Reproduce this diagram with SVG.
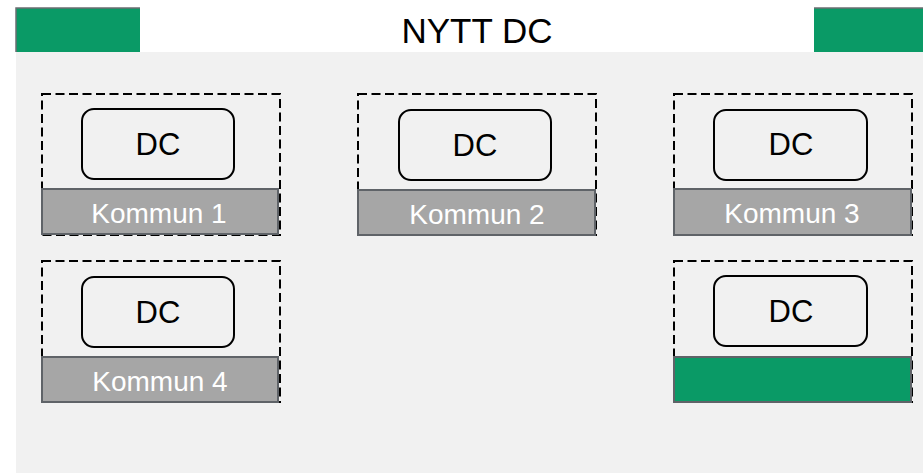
<svg xmlns="http://www.w3.org/2000/svg" width="923" height="473" viewBox="0 0 923 473">
<style>
.t{font-family:"Liberation Sans",Arial,sans-serif;text-anchor:middle}
.dash{fill:none;stroke:#000;stroke-width:2;stroke-dasharray:9,4.5}
.dc{fill:none;stroke:#000;stroke-width:2}
.bar{fill:#a6a6a6;stroke:#5f6368;stroke-width:2}
.gbar{fill:#0a9a66;stroke:#5f6368;stroke-width:2}
.dct{font-size:31px;fill:#000}
.kt{font-size:28px;fill:#fff}
</style>
<rect x="0" y="0" width="923" height="473" fill="#fff"/>
<rect x="16" y="52" width="907" height="421" fill="#f1f1f1"/>
<g id="header">
<rect x="16" y="8" width="124" height="44" fill="#0a9a66"/>
<path d="M16 52 V8 H140" fill="none" stroke="#6b6e72" stroke-width="1.5"/>
<rect x="814" y="8" width="109" height="44" fill="#0a9a66"/>
<path d="M814 8 H923" fill="none" stroke="#6b6e72" stroke-width="1.5"/>
<text class="t" x="477" y="43" font-size="35">NYTT DC</text>
</g>
<g id="kommun1">
<rect class="dash" x="42" y="94" width="238" height="141"/>
<rect class="dc" x="82" y="109" width="152" height="70" rx="12"/>
<text class="t dct" x="158" y="155">DC</text>
<rect class="bar" x="42" y="189" width="236" height="45"/>
<text class="t kt" x="159" y="223">Kommun 1</text>
</g>
<g id="kommun2">
<rect class="dash" x="358" y="94" width="238" height="141"/>
<rect class="dc" x="399" y="110" width="152" height="70" rx="12"/>
<text class="t dct" x="475" y="156">DC</text>
<rect class="bar" x="358" y="190" width="237" height="45"/>
<text class="t kt" x="477" y="224">Kommun 2</text>
</g>
<g id="kommun3">
<rect class="dash" x="674" y="94" width="238" height="141"/>
<rect class="dc" x="714" y="110" width="153" height="70" rx="12"/>
<text class="t dct" x="791" y="155" font-size="28">DC</text>
<rect class="bar" x="674" y="189" width="237" height="46"/>
<text class="t kt" x="792" y="223">Kommun 3</text>
</g>
<g id="kommun4">
<rect class="dash" x="42" y="261" width="238" height="141"/>
<rect class="dc" x="82" y="277" width="152" height="70" rx="12"/>
<text class="t dct" x="158" y="323">DC</text>
<rect class="bar" x="42" y="357" width="236" height="45"/>
<text class="t kt" x="160" y="391">Kommun 4</text>
</g>
<g id="nytt">
<rect class="dash" x="674" y="261" width="238" height="141"/>
<rect class="dc" x="714" y="276" width="153" height="70" rx="12"/>
<text class="t dct" x="791" y="322" font-size="28">DC</text>
<rect class="gbar" x="674" y="357" width="237" height="45"/>
</g>
<g id="connectors"></g>
</svg>
